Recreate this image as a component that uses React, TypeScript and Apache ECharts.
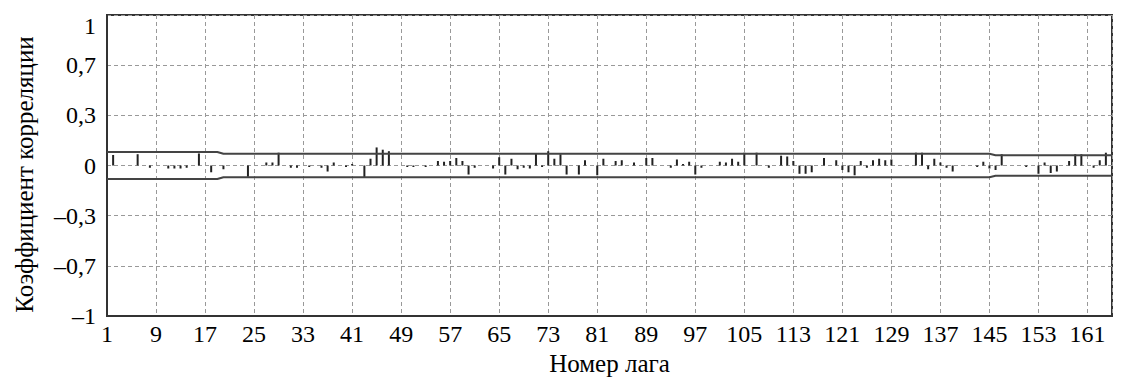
import React, { useEffect, useRef } from "react";
import * as echarts from "echarts";

// Autocorrelation coefficients for lags 1..165
const acfValues: number[] = [
  0, 0.07, 0, 0, 0, 0.075, 0, -0.015, 0, 0,
  -0.02, -0.02, -0.02, -0.015, 0, 0.08, 0, -0.045, 0, -0.025,
  0, 0, 0, -0.075, 0, 0, 0.02, 0.02, 0.085, 0,
  -0.015, -0.015, 0, -0.01, 0, -0.015, -0.04, 0.02, 0, -0.01,
  0.01, 0, -0.08, 0.045, 0.12, 0.105, 0.095, 0, 0, -0.01,
  -0.01, 0, -0.01, 0, 0.03, 0.025, 0.03, 0.05, 0.03, -0.06,
  -0.015, 0, 0, -0.02, 0.055, -0.06, 0.045, -0.025, -0.015, -0.02,
  0.08, -0.01, 0.095, 0.045, 0.075, -0.06, 0, -0.06, 0.035, 0,
  -0.065, 0.045, 0, 0.03, 0.035, 0, 0.02, 0, 0.05, 0.05,
  0, 0, -0.015, 0.04, 0.01, 0.025, -0.06, -0.015, 0, 0,
  0.025, 0.02, 0.045, 0.025, 0.085, 0, 0.085, 0, -0.015, 0,
  0.065, 0.06, 0.03, -0.055, -0.055, -0.045, 0, 0.05, 0, 0.035,
  -0.03, -0.045, -0.065, 0.03, -0.015, 0.035, 0.045, 0.035, 0.04, 0,
  0, 0, 0.085, 0.085, -0.025, 0.045, 0.02, -0.015, -0.04, 0,
  0, 0, -0.01, 0.025, -0.02, -0.03, 0.075, 0, 0, 0,
  -0.01, 0, -0.055, 0.02, -0.05, -0.04, 0, 0.03, 0.075, 0.075,
  0, -0.015, 0.035, 0.085, 0,
];

// Confidence limits (upper = +limit, lower = -limit)
const bandLags: number[] = [1, 19, 20, 145, 146, 165];
const bandLimits: number[] = [0.09, 0.09, 0.078, 0.078, 0.068, 0.068];

const xTickLabels: number[] = [1, 9, 17, 25, 33, 41, 49, 57, 65, 73, 81, 89, 97, 105, 113, 121, 129, 137, 145, 153, 161];
const yTickLabels: string[] = ["–1", "–0,7", "–0,3", "0", "0,3", "0,7", "1"];

const FONT = "'Liberation Serif', 'Times New Roman', serif";

export default function App() {
  const ref = useRef<HTMLDivElement>(null);
  useEffect(() => {
    if (!ref.current) return;
    const chart = echarts.init(ref.current, undefined, { renderer: "svg" });
    const barData = acfValues.map((v, i) => [i + 1, v]);
    const upper = bandLags.map((l, i) => [l, bandLimits[i]]);
    const lower = bandLags.map((l, i) => [l, -bandLimits[i]]);
    chart.setOption({
      animation: false,
      backgroundColor: "#fff",
      textStyle: { fontFamily: FONT },
      grid: {
        left: 107,
        right: 13,
        top: 15,
        bottom: 58,
        show: true,
        borderColor: "#333",
        borderWidth: 2,
        backgroundColor: "transparent",
      },
      xAxis: {
        type: "value",
        min: 1,
        max: 165,
        interval: 8,
        axisLine: { show: true, onZero: false, lineStyle: { color: "#333", width: 2 } },
        axisTick: { show: false },
        axisLabel: {
          showMaxLabel: false,
          color: "#000",
          fontFamily: FONT,
          fontSize: 24,
          margin: 6,
          formatter: (v: number) => {
            const r = Math.round(v);
            return Math.abs(v - r) < 1e-6 && xTickLabels.includes(r) ? String(r) : "";
          },
        },
        splitLine: { show: true, lineStyle: { color: "#999", width: 1, type: [4, 3] } },
        name: "Номер лага",
        nameLocation: "middle",
        nameGap: 35,
        nameTextStyle: { color: "#000", fontFamily: FONT, fontSize: 25 },
      },
      yAxis: {
        type: "value",
        min: -1,
        max: 1,
        interval: 1 / 3,
        axisLine: { show: true, onZero: false, lineStyle: { color: "#333", width: 2 } },
        axisTick: { show: false },
        axisLabel: {
          color: "#000",
          fontFamily: FONT,
          fontSize: 24,
          margin: 11,
          formatter: (v: number) => {
            const idx = Math.round((v + 1) * 3);
            const s = yTickLabels[idx] ?? "";
            return idx === 6 ? "{t|" + s + "}" : s;
          },
          rich: {
            t: { fontFamily: FONT, fontSize: 24, color: "#000", padding: [22, 0, 0, 0] },
          },
        },
        splitLine: { show: true, lineStyle: { color: "#999", width: 1, type: [4, 3] } },
        name: "Коэффициент корреляции",
        nameLocation: "middle",
        nameGap: 70,
        nameTextStyle: { color: "#000", fontFamily: FONT, fontSize: 25, padding: [0, 18, 0, 0] },
      },
      series: [
        {
          type: "bar",
          data: barData,
          barWidth: 2,
          itemStyle: { color: "#222" },
        },
        {
          type: "line",
          data: upper,
          showSymbol: false,
          lineStyle: { color: "#444", width: 2 },
        },
        {
          type: "line",
          data: lower,
          showSymbol: false,
          lineStyle: { color: "#444", width: 2 },
        },
      ],
    });
    return () => chart.dispose();
  }, []);
  return (
    <div
      ref={ref}
      style={{ position: "absolute", left: 0, top: 0, width: 1125, height: 381, background: "#fff" }}
    />
  );
}
